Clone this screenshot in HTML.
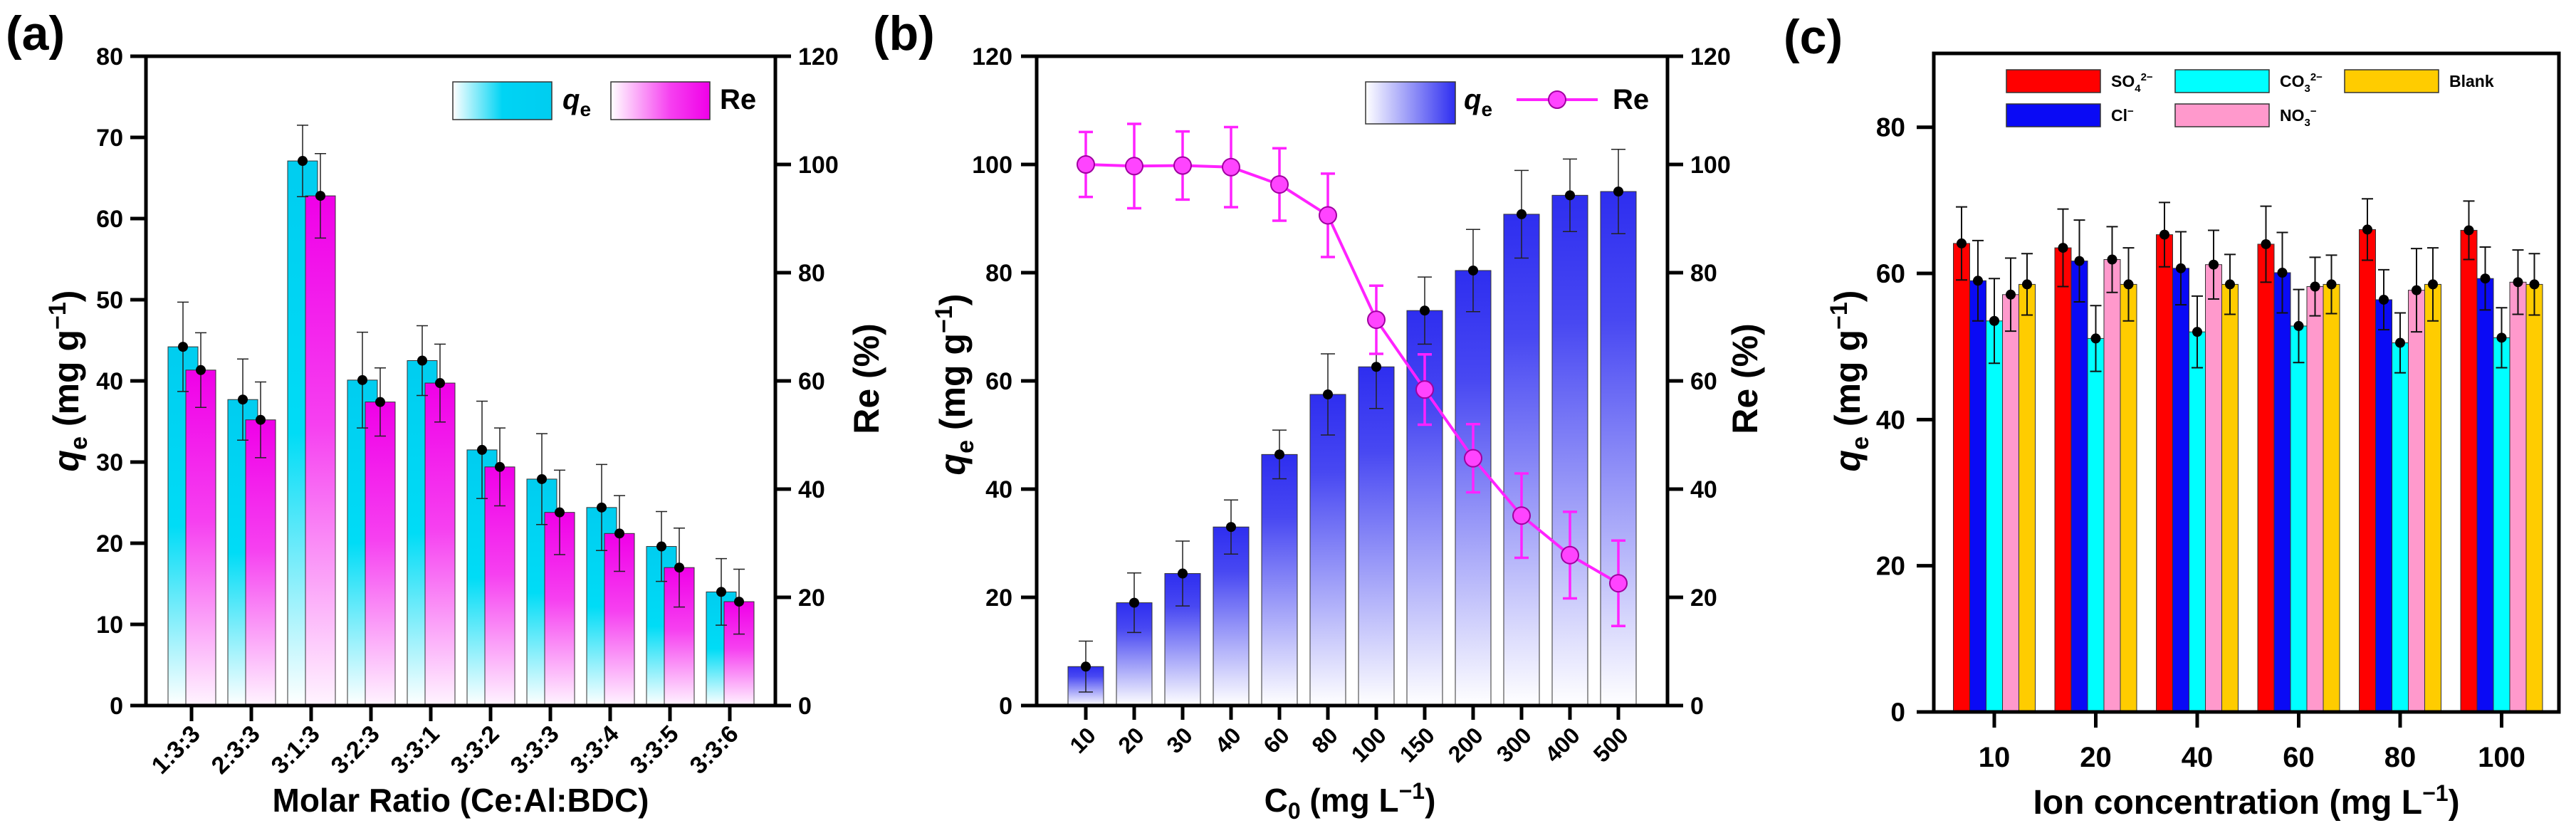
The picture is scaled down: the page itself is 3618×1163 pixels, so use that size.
<!DOCTYPE html>
<html><head><meta charset="utf-8"><style>
html,body{margin:0;padding:0;background:#fff}
svg{display:block;font-family:"Liberation Sans",Arial,sans-serif;font-weight:bold}
</style></head><body>
<svg id="s" width="3618" height="1163" viewBox="0 0 3618 1163" xmlns="http://www.w3.org/2000/svg">
<defs>
<linearGradient id="gc" x1="0" y1="0" x2="0" y2="1"><stop offset="0" stop-color="#00cdf0"/><stop offset="0.5" stop-color="#00dcf6"/><stop offset="1" stop-color="#ffffff"/></linearGradient>
<linearGradient id="gm" x1="0" y1="0" x2="0" y2="1"><stop offset="0" stop-color="#f000e8"/><stop offset="0.45" stop-color="#f640f0"/><stop offset="1" stop-color="#fff4ff"/></linearGradient>
<linearGradient id="gb" x1="0" y1="0" x2="0" y2="1"><stop offset="0" stop-color="#2e2ef0"/><stop offset="0.25" stop-color="#4848f2"/><stop offset="1" stop-color="#ffffff"/></linearGradient>
<linearGradient id="lc" x1="0" y1="0" x2="1" y2="0"><stop offset="0" stop-color="#fff"/><stop offset="0.5" stop-color="#00d4f4"/><stop offset="1" stop-color="#00cdf0"/></linearGradient>
<linearGradient id="lm" x1="0" y1="0" x2="1" y2="0"><stop offset="0" stop-color="#fff"/><stop offset="0.6" stop-color="#f640f0"/><stop offset="1" stop-color="#f000e8"/></linearGradient>
<linearGradient id="lb" x1="0" y1="0" x2="1" y2="0"><stop offset="0" stop-color="#fff"/><stop offset="1" stop-color="#2e2ef0"/></linearGradient>
</defs>
<g id="pa"></g>
<g id="pb"></g>
<g id="pc"></g>
</svg>
<script>
// Panel A data
const aCats = ["1:3:3","2:3:3","3:1:3","3:2:3","3:3:1","3:3:2","3:3:3","3:3:4","3:3:5","3:3:6"];
const aQe = [44.2,37.7,67.1,40.1,42.5,31.5,27.9,24.4,19.6,14.0];
const aQeErr = [5.5,5.0,4.4,5.9,4.3,6.0,5.6,5.3,4.3,4.1];
const aRe = [62.0,52.8,94.2,56.1,59.6,44.1,35.7,31.8,25.5,19.2];
const aReErr = [6.9,7.0,7.8,6.3,7.2,7.2,7.8,7.0,7.3,6.0];
const aLeftTicks = [0,10,20,30,40,50,60,70,80];
const aRightTicks = [0,20,40,60,80,100,120];
// Panel B data
const bCats = ["10","20","30","40","60","80","100","150","200","300","400","500"];
const bQe = [7.2,19.0,24.4,33.0,46.4,57.5,62.6,73.0,80.4,90.8,94.3,95.0];
const bQeErr = [4.7,5.5,6.0,5.0,4.5,7.5,7.7,6.2,7.6,8.1,6.7,7.8];
const bRe = [100,99.7,99.8,99.5,96.3,90.6,71.3,58.4,45.7,35.1,27.8,22.6];
const bReErr = [6.0,7.8,6.3,7.4,6.7,7.7,6.3,6.5,6.3,7.8,8.0,7.9];
const bTicks = [0,20,40,60,80,100,120];
// Panel C data
const cCats = ["10","20","40","60","80","100"];
const cSeriesNames = ["SO4","Cl","CO3","NO3","Blank"];
const cSO4 = [64.1,63.5,65.3,64.0,66.0,65.9];
const cCl = [59.0,61.7,60.7,60.1,56.4,59.3];
const cCO3 = [53.5,51.1,52.0,52.8,50.5,51.2];
const cNO3 = [57.1,61.9,61.2,58.2,57.7,58.8];
const cBlank = [58.5,58.5,58.5,58.5,58.5,58.5];
const cSO4Err = [5.0,5.3,4.4,5.2,4.2,4.0];
const cClErr = [5.5,5.6,5.0,5.5,4.1,4.3];
const cCO3Err = [5.8,4.5,4.9,5.0,4.1,4.1];
const cNO3Err = [5.0,4.5,4.7,4.0,5.7,4.4];
const cBlankErr = [4.2,5.0,4.1,4.0,5.0,4.2];
const cTicks = [0,20,40,60,80];

const NS="http://www.w3.org/2000/svg";
function mk(parent,tag,attrs,text){const e=document.createElementNS(NS,tag);for(const k in attrs)e.setAttribute(k,attrs[k]);if(text!==undefined)e.textContent=text;parent.appendChild(e);return e;}
function errBar(g,x,y1,y2,cap,color,w){
  const e=mk(g,'path',{d:`M${x-cap} ${y1}H${x+cap}M${x} ${y1}V${y2}M${x-cap} ${y2}H${x+cap}`,stroke:color,'stroke-width':w,fill:'none'});
  
  
}
function dot(g,x,y,r,fill,stroke){
  const c=mk(g,'circle',{cx:x,cy:y,r:r,fill:fill,stroke:stroke||'none','stroke-width':2});
  
  
}

// ---------- Panel A ----------
(function(){
const g=document.getElementById('pa');
const L=205,R=1089,T=79,B=991;
const yL=v=>B-(v/80)*(B-T), yR=v=>B-(v/120)*(B-T);
const xC=i=>269+i*84;
const bw=42;
aQe.forEach((v,i)=>{
  const x=xC(i)-12;
  const r=mk(g,'rect',{x:x-bw/2,y:yL(v),width:bw,height:B-yL(v),fill:'url(#gc)',stroke:'#333','stroke-width':1});
  
  
});
aRe.forEach((v,i)=>{
  const x=xC(i)+13;
  const r=mk(g,'rect',{x:x-bw/2,y:yR(v),width:bw,height:B-yR(v),fill:'url(#gm)',stroke:'#333','stroke-width':1});
  
  
});
aQe.forEach((v,i)=>{const x=xC(i)-12;errBar(g,x,yL(v+aQeErr[i]),yL(v-aQeErr[i]),8,'#222',1.5);dot(g,x,yL(v),7,'#000');});
aRe.forEach((v,i)=>{const x=xC(i)+13;errBar(g,x,yR(v+aReErr[i]),yR(v-aReErr[i]),8,'#222',1.5);dot(g,x,yR(v),7,'#000');});
const f=mk(g,'rect',{x:L,y:T,width:R-L,height:B-T,fill:'none',stroke:'#000','stroke-width':5});

aLeftTicks.forEach(t=>{mk(g,'line',{x1:L-22,x2:L,y1:yL(t),y2:yL(t),stroke:'#000','stroke-width':5});
  const tx=mk(g,'text',{x:L-32,y:yL(t)+12,'font-size':34,'text-anchor':'end'},t);});
aRightTicks.forEach(t=>{mk(g,'line',{x1:R,x2:R+22,y1:yR(t),y2:yR(t),stroke:'#000','stroke-width':5});
  const tx=mk(g,'text',{x:R+32,y:yR(t)+12,'font-size':34,'text-anchor':'start'},t);});
aCats.forEach((c,i)=>{mk(g,'line',{x1:xC(i),x2:xC(i),y1:B,y2:B+22,stroke:'#000','stroke-width':5});
  const tx=mk(g,'text',{x:0,y:0,'font-size':34,'text-anchor':'end',transform:`translate(${xC(i)+14},${B+42}) rotate(-45)`},c);
  });
const xt=mk(g,'text',{x:647,y:1140,'font-size':46,'text-anchor':'middle'},'Molar Ratio (Ce:Al:BDC)');

const yt=mk(g,'text',{x:0,y:0,'font-size':50,'text-anchor':'middle',transform:'translate(110,535) rotate(-90)'});
yt.innerHTML='<tspan font-style="italic">q</tspan><tspan font-size="34" dy="12">e</tspan><tspan dy="-12"> (mg g</tspan><tspan font-size="34" dy="-18">−1</tspan><tspan dy="18">)</tspan>';

const y2=mk(g,'text',{x:0,y:0,'font-size':50,'text-anchor':'middle',transform:'translate(1234,532) rotate(-90)'},'Re (%)');

const lg=mk(g,'g',{});
mk(lg,'rect',{x:636,y:115,width:139,height:53,fill:'url(#lc)',stroke:'#333','stroke-width':1.5});
const l1=mk(lg,'text',{x:790,y:153,'font-size':40});l1.innerHTML='<tspan font-style="italic">q</tspan><tspan font-size="28" dy="10">e</tspan>';
mk(lg,'rect',{x:858,y:115,width:139,height:53,fill:'url(#lm)',stroke:'#333','stroke-width':1.5});
mk(lg,'text',{x:1011,y:153,'font-size':40},'Re');
const pl=mk(g,'text',{x:8,y:70,'font-size':68},'(a)');
})();

// ---------- Panel B ----------
(function(){
const g=document.getElementById('pb');
const L=1456,R=2342,T=79,B=991;
const y=v=>B-(v/120)*(B-T);
const xC=i=>1525+i*68;
const bw=50;
bQe.forEach((v,i)=>{
  const r=mk(g,'rect',{x:xC(i)-bw/2,y:y(v),width:bw,height:B-y(v),fill:'url(#gb)',stroke:'#333','stroke-width':1});
  
  
});
bQe.forEach((v,i)=>{errBar(g,xC(i),y(v+bQeErr[i]),y(v-bQeErr[i]),10,'#222',1.5);dot(g,xC(i),y(v),7,'#000');});
const pts=bRe.map((v,i)=>`${xC(i)},${y(v)}`).join(' ');
const ln=mk(g,'polyline',{points:pts,fill:'none',stroke:'#ff22ff','stroke-width':4});

bRe.forEach((v,i)=>{errBar(g,xC(i),y(v+bReErr[i]),y(v-bReErr[i]),10,'#ff22ff',3.5);dot(g,xC(i),y(v),12,'#ff44ff','#a000a0');});
const f=mk(g,'rect',{x:L,y:T,width:R-L,height:B-T,fill:'none',stroke:'#000','stroke-width':5});

bTicks.forEach(t=>{mk(g,'line',{x1:L-22,x2:L,y1:y(t),y2:y(t),stroke:'#000','stroke-width':5});
  mk(g,'line',{x1:R,x2:R+22,y1:y(t),y2:y(t),stroke:'#000','stroke-width':5});
  const tx=mk(g,'text',{x:L-34,y:y(t)+12,'font-size':34,'text-anchor':'end'},t);
  const t2=mk(g,'text',{x:R+32,y:y(t)+12,'font-size':34,'text-anchor':'start'},t);});
bCats.forEach((c,i)=>{mk(g,'line',{x1:xC(i),x2:xC(i),y1:B,y2:B+20,stroke:'#000','stroke-width':5});
  const tx=mk(g,'text',{x:0,y:0,'font-size':32,'text-anchor':'end',transform:`translate(${xC(i)+16},${B+44}) rotate(-45)`},c);
  });
const xt=mk(g,'text',{x:1896,y:1140,'font-size':46,'text-anchor':'middle'});
xt.innerHTML='C<tspan font-size="32" dy="10">0</tspan><tspan dy="-10"> (mg L</tspan><tspan font-size="32" dy="-18">−1</tspan><tspan dy="18">)</tspan>';

const yt=mk(g,'text',{x:0,y:0,'font-size':50,'text-anchor':'middle',transform:'translate(1355,540) rotate(-90)'});
yt.innerHTML='<tspan font-style="italic">q</tspan><tspan font-size="34" dy="12">e</tspan><tspan dy="-12"> (mg g</tspan><tspan font-size="34" dy="-18">−1</tspan><tspan dy="18">)</tspan>';

const y2=mk(g,'text',{x:0,y:0,'font-size':50,'text-anchor':'middle',transform:'translate(2468,532) rotate(-90)'},'Re (%)');

const lg=mk(g,'g',{});
mk(lg,'rect',{x:1918,y:115,width:126,height:59,fill:'url(#lb)',stroke:'#333','stroke-width':1.5});
const l1=mk(lg,'text',{x:2056,y:153,'font-size':40});l1.innerHTML='<tspan font-style="italic">q</tspan><tspan font-size="28" dy="10">e</tspan>';
mk(lg,'line',{x1:2130,x2:2244,y1:140,y2:140,stroke:'#ff22ff','stroke-width':4});
mk(lg,'circle',{cx:2187,cy:140,r:12,fill:'#ff44ff',stroke:'#a000a0','stroke-width':2});
mk(lg,'text',{x:2265,y:153,'font-size':40},'Re');
const pl=mk(g,'text',{x:1226,y:70,'font-size':68},'(b)');
})();

// ---------- Panel C ----------
(function(){
const g=document.getElementById('pc');
const L=2716,R=3594,T=75,B=1000;
const y=v=>B-(v/90.1)*(B-T);
const xC=i=>2801+i*142.5;
const bw=23;
const vals=[cSO4,cCl,cCO3,cNO3,cBlank];
const errs=[cSO4Err,cClErr,cCO3Err,cNO3Err,cBlankErr];
const cols=['#ff0000','#0a0af5','#00ffff','#ff99cc','#ffcc00'];
vals.forEach((s,k)=>s.forEach((v,i)=>{
  const x=xC(i)+(k-2)*bw;
  const r=mk(g,'rect',{x:x-bw/2,y:y(v),width:bw,height:B-y(v),fill:cols[k],stroke:'#333','stroke-width':1});
  
  
}));
vals.forEach((s,k)=>s.forEach((v,i)=>{const x=xC(i)+(k-2)*bw;errBar(g,x,y(v+errs[k][i]),y(v-errs[k][i]),8,'#111',2);dot(g,x,y(v),7,'#000');}));
const f=mk(g,'rect',{x:L,y:T,width:R-L,height:B-T,fill:'none',stroke:'#000','stroke-width':5});

cTicks.forEach(t=>{mk(g,'line',{x1:L-24,x2:L,y1:y(t),y2:y(t),stroke:'#000','stroke-width':5});
  const tx=mk(g,'text',{x:L-40,y:y(t)+13,'font-size':37,'text-anchor':'end'},t);});
cCats.forEach((c,i)=>{mk(g,'line',{x1:xC(i),x2:xC(i),y1:B,y2:B+22,stroke:'#000','stroke-width':5});
  const tx=mk(g,'text',{x:xC(i),y:1077,'font-size':40,'text-anchor':'middle'},c);
  });
const xt=mk(g,'text',{x:3155,y:1143,'font-size':48,'text-anchor':'middle'});
xt.innerHTML='Ion concentration (mg L<tspan font-size="32" dy="-18">−1</tspan><tspan dy="18">)</tspan>';

const yt=mk(g,'text',{x:0,y:0,'font-size':50,'text-anchor':'middle',transform:'translate(2612,535) rotate(-90)'});
yt.innerHTML='<tspan font-style="italic">q</tspan><tspan font-size="34" dy="12">e</tspan><tspan dy="-12"> (mg g</tspan><tspan font-size="34" dy="-18">−1</tspan><tspan dy="18">)</tspan>';

const lg=mk(g,'g',{});
const items=[[2818,98,0,'SO<tspan font-size="15" dy="7">4</tspan><tspan font-size="15" dy="-16">2−</tspan>'],
[3055,98,2,'CO<tspan font-size="15" dy="7">3</tspan><tspan font-size="15" dy="-16">2−</tspan>'],
[3293,98,4,'Blank'],
[2818,146,1,'Cl<tspan font-size="15" dy="-9">−</tspan>'],
[3055,146,3,'NO<tspan font-size="15" dy="7">3</tspan><tspan font-size="15" dy="-16">−</tspan>']];
items.forEach(it=>{mk(lg,'rect',{x:it[0],y:it[1],width:132,height:32,fill:cols[it[2]],stroke:'#333','stroke-width':1.5});
  const t=mk(lg,'text',{x:it[0]+147,y:it[1]+24,'font-size':23});t.innerHTML=it[3];});
const pl=mk(g,'text',{x:2505,y:75,'font-size':68},'(c)');
})();
</script>
</body></html>
